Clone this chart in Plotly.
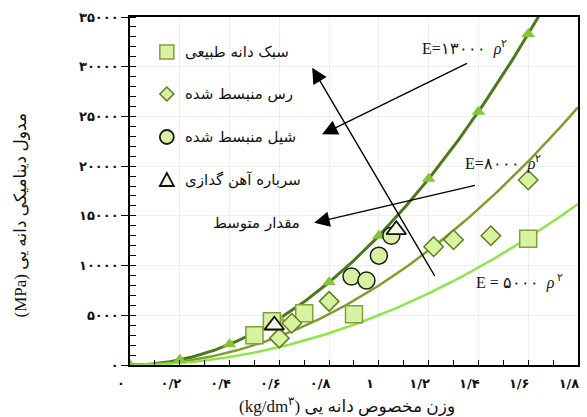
import numpy as np
import plotly.graph_objects as go

# ---- data ----
curve_k = [13000, 8000, 5000]
curve_labels = ["E=۱۳۰۰۰  <i>ρ</i><sup>۲</sup>", "E=۸۰۰۰  <i>ρ</i><sup>۲</sup>", "E = ۵۰۰۰  <i>ρ</i><sup> ۲</sup>"]
curve_marker_rho = [0, 0.2, 0.4, 0.6, 0.8, 1.0, 1.2, 1.4, 1.6]

square_x = [0.50, 0.57, 0.70, 0.90, 1.60]
square_y = [3000, 4400, 5200, 5100, 12700]
diamond_x = [0.60, 0.65, 0.80, 1.22, 1.30, 1.45, 1.60]
diamond_y = [2700, 4200, 6400, 11900, 12600, 13000, 18600]
circle_x = [0.89, 0.95, 1.00, 1.05]
circle_y = [8900, 8500, 11000, 13000]
triangle_x = [0.58, 1.07]
triangle_y = [4000, 13600]

series_names = ["سبک دانه طبیعی", "رس منبسط شده", "شیل منبسط شده", "سرباره آهن گدازی"]
mean_label = "مقدار متوسط"

x_tickvals = [0, 0.2, 0.4, 0.6, 0.8, 1.0, 1.2, 1.4, 1.6, 1.8]
x_ticktext = ["۰", "۰/۲", "۰/۴", "۰/۶", "۰/۸", "۱", "۱/۲", "۱/۴", "۱/۶", "۱/۸"]
y_tickvals = [0, 5000, 10000, 15000, 20000, 25000, 30000, 35000]
y_ticktext = ["۰", "۵۰۰۰", "۱۰۰۰۰", "۱۵۰۰۰", "۲۰۰۰۰", "۲۵۰۰۰", "۳۰۰۰۰", "۳۵۰۰۰"]

x_title = "(kg/dm<sup>۳</sup>) وزن مخصوص دانه یی"
y_title = "(MPa) مدول دینامیکی دانه یی"

# ---- styles ----
curve_colors = ["#4a7a1a", "#7e9e2c", "#8ee44a"]
curve_widths = [3, 2.5, 2.5]
fill = "#d9f2a2"
sq_edge = "#80a03a"
di_edge = "#5e7e1e"
ci_edge = "#1a1a1a"
tr_edge = "#111111"
tr_fill = "#f4fbe2"
text_font = "DejaVu Sans"

fig = go.Figure()

rho = np.linspace(0, 1.8, 181)
for k, c, w in zip(curve_k, curve_colors, curve_widths):
    fig.add_trace(go.Scatter(x=rho, y=k * rho**2, mode="lines",
                             line=dict(color=c, width=w), showlegend=False,
                             hoverinfo="skip"))

mr = np.array(curve_marker_rho)
fig.add_trace(go.Scatter(x=mr, y=curve_k[0] * mr**2, mode="markers",
                         marker=dict(symbol="triangle-up", size=12, color="#86c43a",
                                     line=dict(width=0)),
                         showlegend=False))

fig.add_trace(go.Scatter(x=square_x, y=square_y, mode="markers", name=series_names[0],
                         showlegend=False,
                         marker=dict(symbol="square", size=17, color=fill,
                                     line=dict(color=sq_edge, width=1.5))))
fig.add_trace(go.Scatter(x=diamond_x, y=diamond_y, mode="markers", name=series_names[1],
                         showlegend=False,
                         marker=dict(symbol="diamond", size=15, color=fill,
                                     line=dict(color=di_edge, width=1.5))))
fig.add_trace(go.Scatter(x=circle_x, y=circle_y, mode="markers", name=series_names[2],
                         showlegend=False,
                         marker=dict(symbol="circle", size=17, color=fill,
                                     line=dict(color=ci_edge, width=1.5))))
fig.add_trace(go.Scatter(x=triangle_x, y=triangle_y, mode="markers", name=series_names[3],
                         showlegend=False,
                         marker=dict(symbol="triangle-up", size=17, color=tr_fill,
                                     line=dict(color=tr_edge, width=1.8))))

# ---- hand-made legend (plot-fraction positions) ----
PX0, PW, PY1, PH = 130, 450, 365, 348
def px(xp):
    return (xp - PX0) / PW
def py(yp):
    return (PY1 - yp) / PH

leg_sym_x = px(167)
leg_rows = [52, 94, 137, 180]
leg_paths = [
    None,
    "M 0 7 L 7 0 L 0 -7 L -7 0 Z",
    None,
    "M -7 -6 L 7 -6 L 0 7 Z",
]
common = dict(xref="paper", yref="paper", xsizemode="pixel", ysizemode="pixel",
              xanchor=leg_sym_x)
fig.add_shape(type="rect", x0=-7, x1=7, y0=-7, y1=7, yanchor=py(leg_rows[0]),
              fillcolor=fill, line=dict(color=sq_edge, width=1.5), **common)
fig.add_shape(type="path", path=leg_paths[1], yanchor=py(leg_rows[1]),
              fillcolor=fill, line=dict(color=di_edge, width=1.5), **common)
fig.add_shape(type="circle", x0=-7, x1=7, y0=-7, y1=7, yanchor=py(leg_rows[2]),
              fillcolor=fill, line=dict(color=ci_edge, width=1.8), **common)
fig.add_shape(type="path", path=leg_paths[3], yanchor=py(leg_rows[3]),
              fillcolor=tr_fill, line=dict(color=tr_edge, width=1.8), **common)
for name, row in zip(series_names, leg_rows):
    fig.add_annotation(xref="paper", yref="paper", x=px(183), y=py(row), text=name,
                       xanchor="left", yanchor="middle", showarrow=False,
                       font=dict(family=text_font, size=15, color="#111"))

fig.add_annotation(xref="paper", yref="paper", x=px(303), y=py(223), text=mean_label,
                   xanchor="right", yanchor="middle", showarrow=False,
                   font=dict(family=text_font, size=15, color="#111"))

# curve labels
label_pos = [(1.344, 31900), (1.50, 20400), (1.565, 8400)]
for (lx, ly), txt in zip(label_pos, curve_labels):
    fig.add_annotation(x=lx, y=ly, text=txt, showarrow=False,
                       font=dict(family="Liberation Serif, Times New Roman, serif", size=16, color="#111"))

# arrows (head x,y ; tail ax,ay)
arrows = [((0.732, 29900), (1.228, 8800)),
          ((0.772, 23200), (1.36, 30400)),
          ((0.74, 14300), (1.392, 18100))]
for (hx, hy), (tx, ty) in arrows:
    fig.add_annotation(x=hx, y=hy, ax=tx, ay=ty, xref="x", yref="y", axref="x", ayref="y",
                       text="", showarrow=True, arrowhead=2, arrowsize=2.2,
                       arrowwidth=1.4, arrowcolor="#000")

# axis titles
fig.add_annotation(xref="paper", yref="paper", x=px(348), y=py(405), text=x_title,
                   xanchor="center", yanchor="middle",
                   showarrow=False, font=dict(family="Liberation Serif, DejaVu Sans", size=17, color="#111"))
fig.add_annotation(xref="paper", yref="paper", x=px(20), y=py(215), text=y_title,
                   xanchor="center", yanchor="middle",
                   textangle=-90, showarrow=False,
                   font=dict(family="Liberation Serif, DejaVu Sans", size=17, color="#111"))

fig.update_layout(
    width=587, height=417,
    margin=dict(l=130, r=7, t=17, b=52),
    paper_bgcolor="white", plot_bgcolor="white",
    showlegend=False,
    xaxis=dict(range=[0, 1.8001], tickvals=x_tickvals, ticktext=x_ticktext,
               showgrid=True, gridcolor="#eeeeee", zeroline=False,
               showline=True, linecolor="#000", linewidth=1.5, mirror=True,
               ticks="inside", ticklen=5, tickcolor="#000", ticklabelstandoff=6,
               ticklabelshift=-9, ticklabeloverflow="allow",
               minor=dict(dtick=0.1, ticks="inside", ticklen=5, tickcolor="#000", showgrid=False),
               tickfont=dict(family="DejaVu Sans", size=13, color="#111", weight="bold")),
    yaxis=dict(range=[0, 35000], tickvals=y_tickvals, ticktext=y_ticktext,
               showgrid=True, gridcolor="#eeeeee", zeroline=False,
               showline=True, linecolor="#000", linewidth=1.5, mirror=True,
               ticks="outside", ticklen=7, tickcolor="#000",
               minor=dict(dtick=1000, ticks="inside", ticklen=6, tickcolor="#000", showgrid=False),
               tickfont=dict(family="DejaVu Sans", size=13, color="#111", weight="bold")),
)

fig.write_html("out.html")
